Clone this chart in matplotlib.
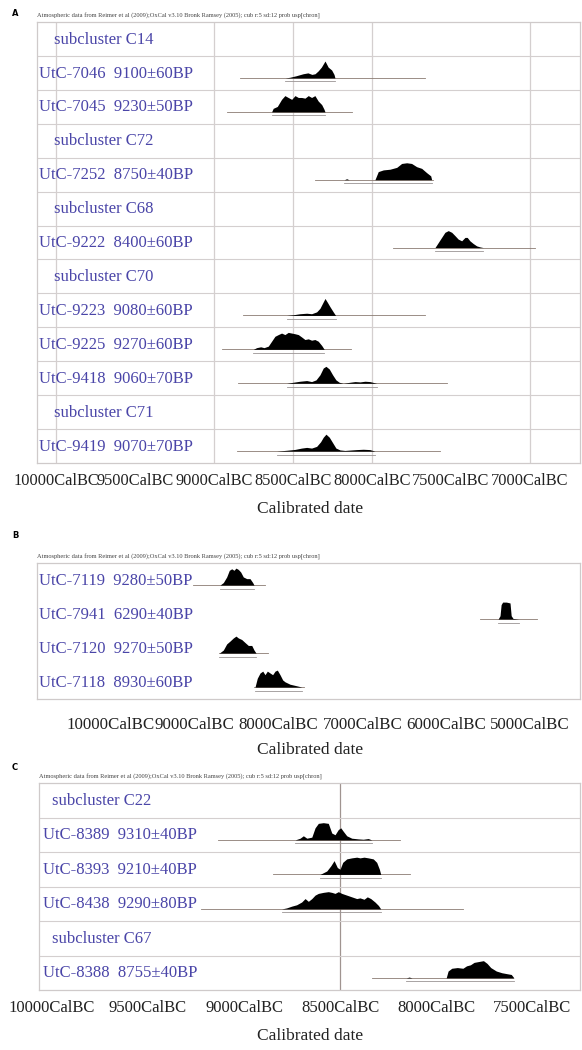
import numpy as np
import matplotlib
matplotlib.use('Agg')
import matplotlib.pyplot as plt

plt.rcParams['font.family'] = ['Liberation Serif', 'DejaVu Serif']

HEADER = ('Atmospheric data from Reimer et al (2009);OxCal v3.10 Bronk Ramsey (2005); '
          'cub r:5 sd:12 prob usp[chron]')
LABEL_COLOR = '#4a45a8'
GRID = '#d4cfcf'

# ---------------- panel A data (years cal BC, relative probability) ----------------
a_labels = ['subcluster C14', 'UtC-7046  9100±60BP', 'UtC-7045  9230±50BP',
            'subcluster C72', 'UtC-7252  8750±40BP',
            'subcluster C68', 'UtC-9222  8400±60BP',
            'subcluster C70', 'UtC-9223  9080±60BP', 'UtC-9225  9270±60BP',
            'UtC-9418  9060±70BP', 'subcluster C71', 'UtC-9419  9070±70BP']
a_ticks = [10000, 9500, 9000, 8500, 8000, 7500, 7000]
a_grid = [10000, 9000, 8500, 8000, 7000]

utc7046_yr = [8550, 8520, 8480, 8435, 8405, 8380, 8360, 8340, 8320, 8297, 8277, 8255, 8240, 8234]
utc7046_p = [0, .04, .13, .25, .30, .21, .25, .42, .64, 1.0, .64, .47, .21, 0]
utc7046_span = [8835, 7664]

utc7045_yr = [8635, 8625, 8599, 8572, 8551, 8530, 8508, 8487, 8466, 8445, 8424, 8403, 8382,
              8361, 8340, 8318, 8304, 8297]
utc7045_p = [0, .21, .32, .74, .96, .85, .74, .96, .85, .85, .81, .96, .85, .96, .64, .43, .17, 0]
utc7045_span = [8918, 8126]

utc7252_yr = [8175, 8160, 8145, 7981, 7960, 7928, 7886, 7843, 7812, 7780, 7749, 7717, 7685,
              7654, 7628, 7622]
utc7252_p = [0, .06, 0, 0, .48, .58, .62, .73, .96, 1.0, .96, .77, .67, .42, .23, 0]
utc7252_span = [8361, 7614]

utc9222_yr = [7601, 7580, 7559, 7538, 7517, 7495, 7474, 7454, 7432, 7411, 7397, 7380, 7359,
              7337, 7316, 7295]
utc9222_p = [0, .30, .60, .90, 1.0, .90, .70, .50, .40, .60, .60, .40, .24, .10, .04, 0]
utc9222_span = [7865, 6968]

utc9223_yr = [8540, 8498, 8456, 8413, 8382, 8350, 8329, 8312, 8297, 8283, 8266, 8245, 8230]
utc9223_p = [0, .04, .10, .13, .10, .21, .42, .73, 1.0, .79, .52, .21, 0]
utc9223_span = [8816, 7664]

utc9225_yr = [8751, 8730, 8704, 8683, 8656, 8635, 8614, 8593, 8572, 8551, 8530, 8508, 8487,
              8466, 8445, 8424, 8403, 8382, 8361, 8340, 8318, 8302]
utc9225_p = [0, .10, .15, .10, .19, .48, .77, .87, .96, .87, 1.0, .96, .92, .87, .73, .58,
             .62, .54, .58, .48, .23, 0]
utc9225_span = [8950, 8130]

utc9418_yr = [8540, 8498, 8456, 8413, 8382, 8354, 8329, 8308, 8291, 8270, 8249, 8228, 8207,
              8182, 8139, 8107, 8076, 8044, 8013, 7987, 7970]
utc9418_p = [0, .06, .12, .16, .10, .20, .50, .90, 1.0, .84, .50, .20, .06, 0, .06, .10, .08,
             .12, .10, .04, 0]
utc9418_span = [8846, 7527]

utc9419_yr = [8603, 8540, 8487, 8445, 8413, 8382, 8350, 8325, 8308, 8291, 8270, 8249, 8228,
              8202, 8171, 8128, 8097, 8055, 8013, 7981]
utc9419_p = [0, .05, .10, .18, .22, .18, .28, .55, .82, 1.0, .82, .50, .18, .07, .04, .07, .09,
             .11, .09, 0]
utc9419_span = [8856, 7569]

# ---------------- panel B data ----------------
b_labels = ['UtC-7119  9280±50BP', 'UtC-7941  6290±40BP',
            'UtC-7120  9270±50BP', 'UtC-7118  8930±60BP']
b_ticks = [10000, 9000, 8000, 7000, 6000, 5000]

utc7119_yr = [8700, 8660, 8620, 8589, 8560, 8533, 8509, 8481, 8453, 8422, 8381, 8342, 8310, 8294]
utc7119_p = [0, .15, .48, .87, .96, .87, 1.0, .92, .77, .48, .38, .38, .15, 0]
utc7119_span = [9022, 8163]

utc7941_yr = [5382, 5359, 5346, 5328, 5284, 5240, 5226, 5204, 5137]
utc7941_p = [0, .20, .85, 1.0, 1.0, .95, .20, .04, 0]
utc7941_span = [5598, 4918]

utc7120_yr = [8708, 8660, 8620, 8580, 8541, 8509, 8481, 8441, 8401, 8362, 8321, 8294, 8270]
utc7120_p = [0, .18, .54, .71, .89, 1.0, .89, .80, .62, .45, .45, .18, 0]
utc7120_span = [8711, 8127]

utc7118_yr = [8282, 8255, 8222, 8190, 8163, 8135, 8103, 8072, 8043, 8016, 7984, 7952, 7924,
              7865, 7805, 7754, 7725]
utc7118_p = [0, .52, .83, .94, .73, .94, .83, .73, .94, 1.0, .73, .42, .31, .17, .10, .04, 0]
utc7118_span = [8300, 7700]

# ---------------- panel C data ----------------
c_labels = ['subcluster C22', 'UtC-8389  9310±40BP', 'UtC-8393  9210±40BP',
            'UtC-8438  9290±80BP', 'subcluster C67', 'UtC-8388  8755±40BP']
c_ticks = [10000, 9500, 9000, 8500, 8000, 7500]

utc8389_yr = [8734, 8708, 8691, 8673, 8647, 8630, 8613, 8587, 8561, 8543, 8526, 8509, 8496,
              8483, 8465, 8439, 8405, 8379, 8353, 8335]
utc8389_p = [0, .10, .24, .10, .16, .70, .96, 1.0, .96, .40, .30, .60, .70, .50, .24, .10,
             .06, .04, .08, 0]
utc8389_span = [9134, 8187]

utc8393_yr = [8604, 8569, 8548, 8531, 8514, 8500, 8486, 8465, 8439, 8413, 8396, 8375, 8353,
              8327, 8309, 8295, 8288]
utc8393_p = [0, .20, .50, .80, .40, .30, .70, .90, .96, 1.0, .96, 1.0, .96, .90, .70, .30, 0]
utc8393_span = [8847, 8135]

utc8438_yr = [8804, 8778, 8752, 8726, 8700, 8682, 8665, 8647, 8630, 8613, 8587, 8561, 8543,
              8526, 8509, 8491, 8465, 8439, 8413, 8396, 8375, 8358, 8340, 8318, 8300, 8288]
utc8438_p = [0, .06, .16, .24, .40, .60, .44, .60, .80, .90, .96, 1.0, .96, .90, 1.0, .90,
             .80, .70, .60, .64, .56, .70, .60, .40, .20, 0]
utc8438_span = [9224, 7859]

utc8388_yr = [8155, 8140, 8125, 7947, 7937, 7918, 7889, 7860, 7841, 7821, 7802, 7773, 7753,
              7734, 7715, 7686, 7657, 7628, 7608, 7594]
utc8388_p = [0, .05, 0, 0, .40, .56, .60, .56, .70, .76, .90, .96, 1.0, .84, .60, .40, .30,
             .24, .20, 0]
utc8388_span = [8333, 7599]

a_samples = [None, (utc7046_yr, utc7046_p, utc7046_span), (utc7045_yr, utc7045_p, utc7045_span),
             None, (utc7252_yr, utc7252_p, utc7252_span),
             None, (utc9222_yr, utc9222_p, utc9222_span),
             None, (utc9223_yr, utc9223_p, utc9223_span), (utc9225_yr, utc9225_p, utc9225_span),
             (utc9418_yr, utc9418_p, utc9418_span), None, (utc9419_yr, utc9419_p, utc9419_span)]
b_samples = [(utc7119_yr, utc7119_p, utc7119_span), (utc7941_yr, utc7941_p, utc7941_span),
             (utc7120_yr, utc7120_p, utc7120_span), (utc7118_yr, utc7118_p, utc7118_span)]
c_samples = [None, (utc8389_yr, utc8389_p, utc8389_span), (utc8393_yr, utc8393_p, utc8393_span),
             (utc8438_yr, utc8438_p, utc8438_span), None, (utc8388_yr, utc8388_p, utc8388_span)]

W, H = 582, 1050
fig = plt.figure(figsize=(W / 100, H / 100), dpi=100)


def px_axes(left, right, top, bottom):
    return fig.add_axes([left / W, 1 - bottom / H, (right - left) / W, (bottom - top) / H])


def draw_panel(ax, labels, samples, xlim, ticks, tick_fs, pad, sub_x, lab_x, seps=True):
    n = len(labels)
    ax.set_xlim(xlim)
    ax.set_ylim(n, 0)
    tr = ax.get_yaxis_transform()
    for i, (lab, s) in enumerate(zip(labels, samples)):
        is_sub = lab.startswith('subcluster')
        ax.text(sub_x if is_sub else lab_x, i + 0.52, lab, transform=tr, fontsize=12,
                color=LABEL_COLOR, va='center', ha='left')
        if s is None:
            continue
        yrs, p, span = s
        base = i + 0.65
        ax.plot(span, [base, base], color='#8a7b72', lw=0.6, zorder=2)
        ax.fill_between(yrs, base, base - 0.5 * np.array(p), color='black', lw=0, zorder=3)
        ax.plot([yrs[0], yrs[-1]], [base + 0.1, base + 0.1], color='#9a9494', lw=0.6)
    if seps:
        for i in range(1, n):
            ax.axhline(i, color=GRID, lw=0.8, zorder=1)
    ax.set_xticks(ticks)
    ax.set_xticklabels(['%dCalBC' % t for t in ticks], fontsize=tick_fs)
    ax.tick_params(axis='x', length=0, pad=pad, colors='#222222')
    ax.set_yticks([])
    for sp in ax.spines.values():
        sp.set_color('#cfcaca')
        sp.set_linewidth(0.9)
    ax.text(0.0, 1.0 + 6 / (ax.bbox.height), HEADER, transform=ax.transAxes, fontsize=4.6,
            color='#444444', va='center', ha='left')


# panel A
axA = px_axes(37, 580, 22, 463)
for g in a_grid:
    axA.axvline(g, color=GRID, lw=0.9, zorder=0)
draw_panel(axA, a_labels, a_samples, (10120, 6683), a_ticks, 11.8, 7, 0.031, 0.004)

# panel B
axB = px_axes(37, 580, 563, 699)
draw_panel(axB, b_labels, b_samples, (10883, 4405), b_ticks, 12.2, 13, 0.031, 0.004, seps=False)

# panel C
axC = px_axes(39, 580, 783, 990)
axC.axvline(8500, color='#a09490', lw=0.9, zorder=0)
draw_panel(axC, c_labels, c_samples, (10068, 7250), c_ticks, 12.0, 7, 0.024, 0.007)

for lab, y in [('A', 13), ('B', 535), ('C', 767)]:
    fig.text(15 / W, 1 - y / H, lab, fontsize=6, family='DejaVu Sans', weight='bold',
             ha='center', va='center')
for y in [509, 750, 1036]:
    fig.text(310 / W, 1 - y / H, 'Calibrated date', fontsize=12.5, ha='center', va='center',
             color='#222222')

fig.savefig('out.png', dpi=100)
